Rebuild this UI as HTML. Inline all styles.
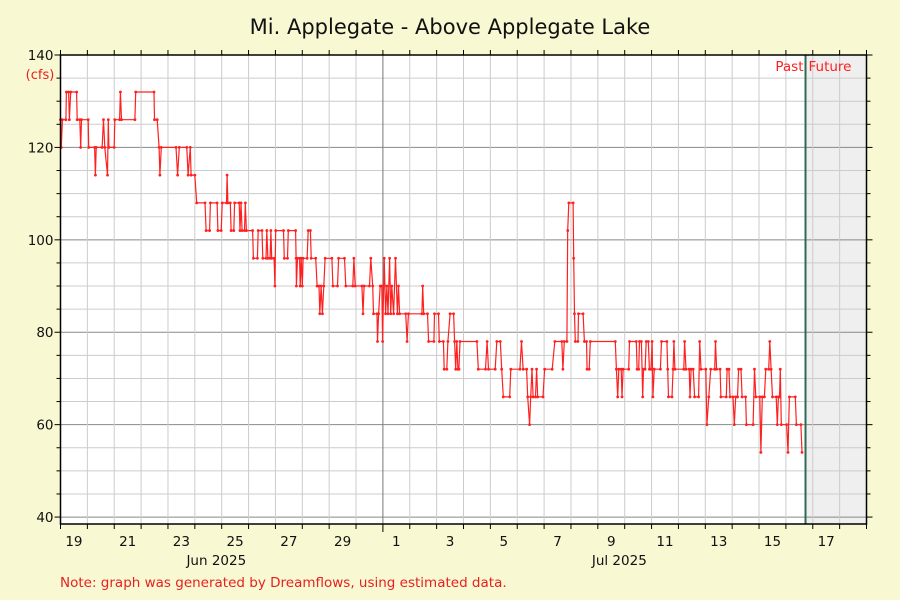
<!DOCTYPE html>
<html><head><meta charset="utf-8"><style>
html,body{margin:0;padding:0;background:#f8f8d2;}
svg{display:block;font-family:"DejaVu Sans","Liberation Sans",sans-serif;}
</style></head><body>
<svg id="chart" width="900" height="600" viewBox="0 0 900 600">
<rect x="0" y="0" width="900" height="600" fill="#f8f8d2"/>
<text x="450" y="34" text-anchor="middle" font-size="21" fill="#111">Mi. Applegate - Above Applegate Lake</text>
<text x="40" y="79" text-anchor="middle" font-size="13" fill="#e82020">(cfs)</text>
<text x="60" y="587" font-size="13.5" fill="#e82020">Note: graph was generated by Dreamflows, using estimated data.</text>
<g id="plot"></g>
</svg>
<script>
const days=[0,0.03,0.07,0.2,0.22,0.3,0.33,0.38,0.6,0.62,0.72,0.75,0.78,1.03,1.05,1.27,1.3,1.33,1.55,1.6,1.65,1.75,1.78,1.8,2.0,2.02,2.2,2.23,2.27,2.77,2.8,3.48,3.5,3.6,3.67,3.7,3.75,4.3,4.36,4.42,4.7,4.75,4.83,4.86,5.0,5.07,5.38,5.42,5.55,5.58,5.83,5.86,5.98,6.02,6.18,6.2,6.23,6.32,6.35,6.45,6.48,6.65,6.68,6.72,6.76,6.85,6.88,6.92,7.15,7.18,7.33,7.36,7.5,7.53,7.65,7.68,7.72,7.8,7.83,7.86,7.95,7.98,8.01,8.3,8.33,8.45,8.48,8.75,8.77,8.78,8.82,8.9,8.92,8.96,9.0,9.03,9.18,9.22,9.3,9.33,9.5,9.55,9.62,9.65,9.7,9.75,9.8,9.85,10.1,10.14,10.31,10.35,10.57,10.62,10.88,10.92,10.97,11.22,11.26,11.3,11.5,11.55,11.62,11.65,11.78,11.8,11.84,11.9,11.96,11.99,12.05,12.1,12.15,12.19,12.25,12.29,12.33,12.4,12.47,12.54,12.58,12.62,12.85,12.9,12.95,13.45,13.48,13.52,13.66,13.7,13.9,13.92,14.07,14.1,14.25,14.28,14.38,14.42,14.5,14.63,14.67,14.71,14.75,14.79,14.83,14.87,15.5,15.55,15.82,15.88,15.93,16.18,16.24,16.37,16.42,16.48,16.72,16.76,17.1,17.16,17.22,17.35,17.39,17.46,17.5,17.55,17.59,17.68,17.72,17.76,17.96,18.02,18.3,18.4,18.66,18.7,18.75,18.85,18.88,18.92,19.08,19.1,19.13,19.16,19.26,19.28,19.45,19.5,19.58,19.6,19.68,19.72,20.65,20.69,20.74,20.78,20.87,20.9,20.94,21.15,21.18,21.43,21.46,21.52,21.55,21.62,21.67,21.7,21.76,21.8,21.88,21.92,21.98,22.02,22.05,22.1,22.33,22.37,22.57,22.6,22.63,22.76,22.8,22.83,22.87,23.2,23.23,23.28,23.4,23.43,23.47,23.55,23.6,23.75,23.79,23.84,24.02,24.06,24.13,24.2,24.35,24.38,24.42,24.55,24.58,24.78,24.81,24.88,24.92,25.03,25.08,25.13,25.2,25.24,25.33,25.37,25.5,25.53,25.78,25.83,25.88,26.03,26.07,26.12,26.2,26.25,26.36,26.4,26.45,26.5,26.64,26.68,26.72,26.76,26.79,26.83,27.03,27.08,27.13,27.35,27.39,27.56,27.6];
const cfs=[126,120,126,126,132,132,126,132,132,126,126,120,126,126,120,120,114,120,120,126,120,114,126,120,120,126,126,132,126,126,132,132,126,126,120,114,120,120,114,120,120,114,120,114,114,108,108,102,102,108,108,102,102,108,108,114,108,108,102,102,108,108,102,108,102,102,108,102,102,96,96,102,102,96,96,102,96,96,102,96,96,90,102,102,96,96,102,102,96,90,96,96,90,96,90,96,96,102,102,96,96,90,90,84,90,84,90,96,96,90,90,96,96,90,90,96,90,90,84,90,90,96,90,84,84,78,84,90,90,78,96,84,90,84,96,84,90,84,96,84,90,84,84,78,84,84,90,84,84,78,78,84,84,78,78,72,72,78,84,84,78,72,78,72,72,78,78,72,72,78,72,72,78,78,72,66,66,72,72,78,72,72,66,60,66,72,66,66,72,66,66,72,72,78,78,72,78,78,102,108,108,96,84,78,78,84,84,78,78,72,72,78,78,72,66,72,72,66,72,72,78,78,72,72,78,78,66,72,72,78,78,72,72,78,66,72,72,78,78,72,66,66,72,78,72,72,78,72,72,66,72,72,66,66,78,72,72,60,66,72,72,78,72,72,66,66,72,72,66,66,60,66,66,72,72,66,66,60,60,72,66,66,54,66,66,72,72,78,72,66,66,60,66,66,72,60,60,54,66,66,60,60,54];
const yTickLabels=[40,60,80,100,120,140];
const xDayLabels=["19","21","23","25","27","29","1","3","5","7","9","11","13","15","17"];
const xDayLabelPos=[0,2,4,6,8,10,12,14,16,18,20,22,24,26,28];
const monthLabels=["Jun 2025","Jul 2025"];
const monthLabelPos=[5.8,20.8];
const nowDay=27.73;

const L=60.5,R=866.5,T=55,B=524;
const dayW=(R-L)/30;
const yMin=38.5,yMax=140;
const X=d=>L+d*dayW;
const Y=v=>T+(yMax-v)*(B-T)/(yMax-yMin);
const NS="http://www.w3.org/2000/svg";
const g=document.getElementById('plot');
function mk(tag,attrs,parent){const e=document.createElementNS(NS,tag);for(const k in attrs)e.setAttribute(k,attrs[k]);(parent||g).appendChild(e);return e;}

let e=mk('rect',{x:L,y:T,width:R-L,height:B-T,fill:'#fff'});


e=mk('rect',{x:X(nowDay),y:T,width:R-X(nowDay),height:B-T,fill:'#efefef'});



for(let v=40;v<=140;v+=5){
  const major=v%20===0;
  e=mk('line',{x1:L,x2:R,y1:Y(v),y2:Y(v),stroke:major?'#888':'#ccc','stroke-width':1});
  
  
  mk('line',{x1:L-(major?6:4),x2:L,y1:Y(v),y2:Y(v),stroke:'#000'});
  mk('line',{x1:R,x2:R+(major?6:4),y1:Y(v),y2:Y(v),stroke:'#000'});
}
for(let d=1;d<30;d++){
  e=mk('line',{x1:X(d),x2:X(d),y1:T,y2:B,stroke:d===12?'#777':'#ccc','stroke-width':1});
  
  
}
for(let d=0;d<=30;d++){
  mk('line',{x1:X(d),x2:X(d),y1:B,y2:B+(d===12?8:5),stroke:'#000'});
  mk('line',{x1:X(d),x2:X(d),y1:T,y2:T-5,stroke:'#000'});
}
yTickLabels.forEach(v=>{
  const t=mk('text',{x:L-7,y:Y(v)+5,'text-anchor':'end','font-size':13.5,fill:'#111'});
  t.textContent=v;
  
  
});
xDayLabels.forEach((s,i)=>{
  const t=mk('text',{x:X(xDayLabelPos[i]+0.5),y:546,'text-anchor':'middle','font-size':13.5,fill:'#111'});
  t.textContent=s;
  
  
});
monthLabels.forEach((s,i)=>{
  const t=mk('text',{x:X(monthLabelPos[i]),y:565,'text-anchor':'middle','font-size':13.5,fill:'#111'});
  t.textContent=s;
  
  
});

const pts=days.map((d,i)=>X(d).toFixed(1)+','+Y(cfs[i]).toFixed(1)).join(' ');
e=mk('polyline',{points:pts,fill:'none',stroke:'#ff2020','stroke-width':1.2});


days.forEach((d,i)=>{
  const c=mk('circle',{cx:X(d),cy:Y(cfs[i]),r:1.4,fill:'#ff2020'});
  
  
});

e=mk('line',{x1:X(nowDay),x2:X(nowDay),y1:T,y2:B,stroke:'#2e6b55','stroke-width':2});


e=mk('rect',{x:L,y:T,width:R-L,height:B-T,fill:'none',stroke:'#000','stroke-width':1.5});


let t=mk('text',{x:X(nowDay)-2,y:71,'text-anchor':'end','font-size':13.5,fill:'#ff2020'});
t.textContent='Past';


t=mk('text',{x:X(nowDay)+3,y:71,'text-anchor':'start','font-size':13.5,fill:'#ff2020'});
t.textContent='Future';


</script>
</body></html>
